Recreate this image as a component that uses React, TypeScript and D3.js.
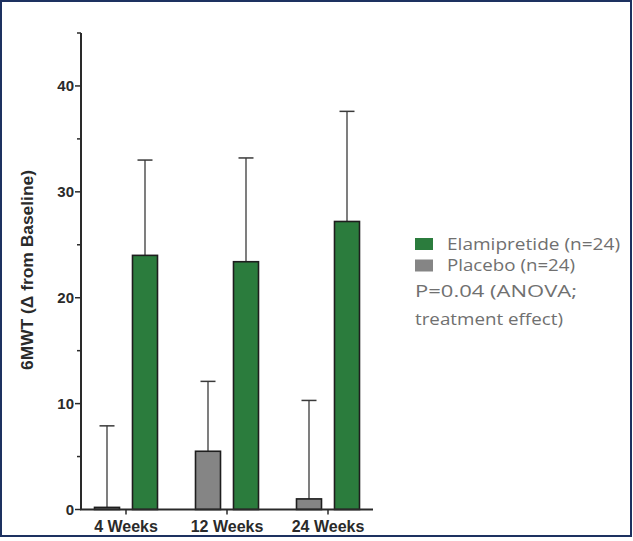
import React, { useRef, useEffect } from 'react';
import * as d3 from 'd3';

const timepoints: string[] = ['4 Weeks', '12 Weeks', '24 Weeks'];
const series: string[] = ['Placebo', 'Elamipretide'];
const placeboMeans: number[] = [0.2, 5.5, 1.0];
const placeboUpper: number[] = [7.9, 12.1, 10.3];
const elamiMeans: number[] = [24.0, 23.4, 27.2];
const elamiUpper: number[] = [33.0, 33.2, 37.6];
const yTickValues: number[] = [0, 10, 20, 30, 40];
const yMinorTicks: number[] = [5, 15, 25, 35, 45];
const legendLabels: string[] = ['Elamipretide (n=24)', 'Placebo (n=24)'];
const noteLines: string[] = ['P=0.04 (ANOVA;', 'treatment effect)'];

const colors: Record<string, string> = { Placebo: '#858585', Elamipretide: '#2b7c3d' };

const App = () => {
  const ref = useRef<SVGSVGElement>(null);

  useEffect(() => {
    const width = 633;
    const height = 541;
    const svg = d3.select(ref.current);
    svg.selectAll('*').remove();
    svg.attr('width', width).attr('height', height);

    svg.append('rect')
      .attr('x', 0).attr('y', 0).attr('width', width).attr('height', height)
      .attr('fill', '#fff');

    // frame
    svg.append('rect')
      .attr('x', 1).attr('y', 1).attr('width', 630).attr('height', 535)
      .attr('fill', 'none').attr('stroke', '#1d3160').attr('stroke-width', 2);

    const y = d3.scaleLinear().domain([0, 45]).range([509.5, 33]);
    const x0 = d3.scaleBand<string>().domain(timepoints).range([75.5, 378.5]);
    const x1 = d3.scaleBand<string>().domain(series).range([19, 82]).paddingInner(0.342);

    const rows = timepoints.map((t, i) => ({
      t,
      values: [
        { s: 'Placebo', mean: placeboMeans[i], upper: placeboUpper[i] },
        { s: 'Elamipretide', mean: elamiMeans[i], upper: elamiUpper[i] },
      ],
    }));

    const groups = svg.selectAll('g.grp')
      .data(rows)
      .enter().append('g')
      .attr('class', 'grp')
      .attr('transform', d => `translate(${x0(d.t)},0)`);

    const capW = 15;
    // error bars (upper only)
    groups.selectAll('g.err')
      .data(d => d.values)
      .enter().append('g')
      .attr('class', 'err')
      .each(function (d) {
        const g = d3.select(this);
        const cx = (x1(d.s) as number) + x1.bandwidth() / 2;
        g.append('line')
          .attr('x1', cx).attr('x2', cx)
          .attr('y1', y(d.mean)).attr('y2', y(d.upper))
          .attr('stroke', '#3a3a3a').attr('stroke-width', 1.3);
        g.append('line')
          .attr('x1', cx - capW / 2).attr('x2', cx + capW / 2)
          .attr('y1', y(d.upper)).attr('y2', y(d.upper))
          .attr('stroke', '#3a3a3a').attr('stroke-width', 1.5);
      });

    groups.selectAll('rect.bar')
      .data(d => d.values)
      .enter().append('rect')
      .attr('class', 'bar')
      .attr('x', d => x1(d.s) as number)
      .attr('width', x1.bandwidth())
      .attr('y', d => y(d.mean))
      .attr('height', d => Math.max(1.5, y(0) - y(d.mean)))
      .attr('fill', d => colors[d.s])
      .attr('stroke', '#1e1e1e')
      .attr('stroke-width', 1.6);

    // y axis
    const axisColor = '#2a2a2a';
    const boldFont = 'Liberation Sans, Arial, sans-serif';
    svg.append('line')
      .attr('x1', 81).attr('x2', 81).attr('y1', y(45)).attr('y2', y(0))
      .attr('stroke', axisColor).attr('stroke-width', 2);
    svg.selectAll('line.ymaj')
      .data(yTickValues).enter().append('line')
      .attr('x1', 75).attr('x2', 81).attr('y1', d => y(d)).attr('y2', d => y(d))
      .attr('stroke', axisColor).attr('stroke-width', 1.5);
    svg.selectAll('line.ymin')
      .data(yMinorTicks).enter().append('line')
      .attr('x1', 77).attr('x2', 81).attr('y1', d => y(d)).attr('y2', d => y(d))
      .attr('stroke', axisColor).attr('stroke-width', 1.5);
    svg.selectAll('text.ylab')
      .data(yTickValues).enter().append('text')
      .attr('x', 74).attr('y', d => y(d))
      .attr('dy', '0.36em')
      .attr('text-anchor', 'end')
      .attr('font-family', boldFont)
      .attr('font-weight', 'bold')
      .attr('font-size', 15)
      .attr('fill', '#2a2a2a')
      .text(d => d);

    // x axis
    svg.append('line')
      .attr('x1', 80).attr('x2', 373).attr('y1', y(0)).attr('y2', y(0))
      .attr('stroke', axisColor).attr('stroke-width', 2);
    svg.selectAll('line.xt')
      .data(timepoints).enter().append('line')
      .attr('x1', d => (x0(d) as number) + x0.bandwidth() / 2)
      .attr('x2', d => (x0(d) as number) + x0.bandwidth() / 2)
      .attr('y1', y(0)).attr('y2', y(0) + 5)
      .attr('stroke', axisColor).attr('stroke-width', 1.5);
    svg.selectAll('text.xlab')
      .data(timepoints).enter().append('text')
      .attr('x', d => (x0(d) as number) + x0.bandwidth() / 2)
      .attr('y', 532)
      .attr('text-anchor', 'middle')
      .attr('font-family', boldFont)
      .attr('font-weight', 'bold')
      .attr('font-size', 16)
      .attr('fill', '#2a2a2a')
      .text(d => d);

    // y axis title
    svg.append('text')
      .attr('transform', 'translate(33,270) rotate(-90)')
      .attr('text-anchor', 'middle')
      .attr('font-family', boldFont)
      .attr('font-weight', 'bold')
      .attr('font-size', 16)
      .attr('textLength', 200)
      .attr('lengthAdjust', 'spacingAndGlyphs')
      .attr('fill', '#2a2a2a')
      .text('6MWT (\u0394 from Baseline)');

    // legend
    const legendColors = [colors.Elamipretide, colors.Placebo];
    const legendWidths = [173, 128];
    const leg = svg.append('g').attr('transform', 'translate(415,238)');
    legendLabels.forEach((label, i) => {
      leg.append('rect')
        .attr('x', 0).attr('y', i * 21.5)
        .attr('width', 18).attr('height', 12)
        .attr('fill', legendColors[i]);
      leg.append('text')
        .attr('x', 32).attr('y', i * 21.5 + 11.5)
        .attr('font-family', 'Open Sans, sans-serif')
        .attr('font-size', 15.5)
        .attr('textLength', legendWidths[i])
        .attr('lengthAdjust', 'spacingAndGlyphs')
        .attr('fill', '#707070')
        .text(label);
    });

    const noteWidths = [162, 148];
    noteLines.forEach((line, i) => {
      svg.append('text')
        .attr('x', 415).attr('y', 297 + i * 28)
        .attr('font-family', 'Open Sans, sans-serif')
        .attr('font-size', 15.5)
        .attr('textLength', noteWidths[i])
        .attr('lengthAdjust', 'spacingAndGlyphs')
        .attr('fill', '#707070')
        .text(line);
    });

    return () => {
      d3.select(ref.current).selectAll('*').remove();
    };
  }, []);

  return (
    <div style={{ position: 'absolute', left: 0, top: 0 }}>
      <svg ref={ref} style={{ display: 'block' }}></svg>
    </div>
  );
};

export default App;
